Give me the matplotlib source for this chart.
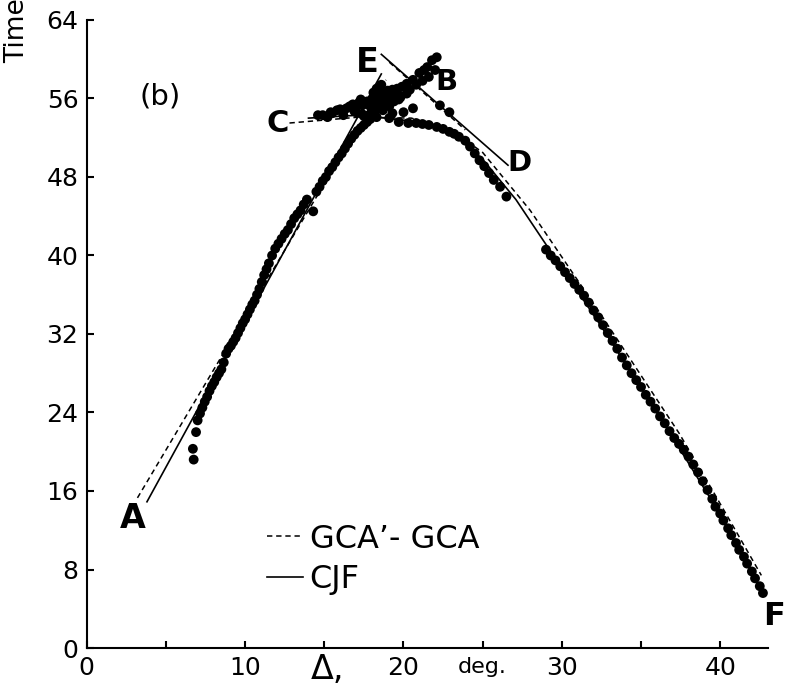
import numpy as np
import matplotlib.pyplot as plt

# Data (Delta in deg, Time)
# left (A-B) branch
left_x = [6.75, 6.70, 6.90, 7.00, 7.15, 7.30, 7.45, 7.60, 7.75, 7.90, 8.05, 8.20, 8.35, 8.50,
          8.65, 8.80, 8.95, 9.10, 9.25, 9.40, 9.55, 9.70, 9.85, 10.0, 10.15, 10.3, 10.45, 10.6,
          10.75, 10.9, 11.05, 11.2, 11.35, 11.5, 11.7, 11.9, 12.1, 12.3, 12.5, 12.7, 12.9, 13.1,
          13.3, 13.5, 13.7, 13.9, 14.3, 14.5, 14.7, 14.9, 15.1, 15.3, 15.5, 15.7, 15.9, 16.1,
          16.3, 16.5, 16.7, 16.9, 17.1, 17.3, 17.5, 17.7, 17.9]
left_y = [19.2, 20.3, 22.0, 23.2, 23.9, 24.5, 25.1, 25.6, 26.2, 26.7, 27.1, 27.6, 28.0, 28.4,
          29.1, 30.0, 30.5, 30.8, 31.2, 31.6, 32.1, 32.6, 33.1, 33.5, 34.0, 34.5, 35.0, 35.4,
          36.0, 36.6, 37.3, 38.0, 38.6, 39.2, 40.0, 40.7, 41.2, 41.7, 42.2, 42.6, 43.2, 43.8,
          44.2, 44.6, 45.2, 45.7, 44.5, 46.5, 47.0, 47.6, 48.0, 48.6, 49.0, 49.5, 50.0, 50.4,
          50.9, 51.4, 51.9, 52.3, 52.7, 53.0, 53.3, 53.6, 53.9]

# cluster near the cusp (C and B branches)
peak_x = [14.6, 14.9, 15.2, 15.5, 15.8, 16.2, 16.6, 17.0, 17.4, 17.7, 18.0, 18.3, 18.7, 19.0,
          19.3, 19.6, 19.9, 20.2, 20.6, 21.0, 21.3, 21.5, 21.8, 22.1, 18.3, 18.7, 19.1, 19.7,
          18.3, 19.1, 18.0, 17.5, 18.9, 19.5, 20.2, 20.6, 22.3, 22.9, 20.0, 18.6, 17.9, 16.9,
          16.0, 16.4, 16.8, 17.2, 17.6, 18.0, 18.4, 18.8, 19.2, 19.6, 17.0, 17.4, 17.8, 18.2,
          18.6, 19.0, 19.4, 19.8, 20.4, 21.2, 21.6, 22.0, 15.4, 16.2, 17.3, 18.1, 19.3, 20.8]
peak_y = [54.3, 54.3, 54.1, 54.5, 54.8, 54.3, 55.2, 55.1, 55.3, 55.7, 55.9, 56.2, 56.7, 56.8,
          56.9, 57.0, 57.2, 57.5, 57.9, 58.6, 58.9, 59.2, 59.9, 60.2, 54.1, 54.8, 55.2, 55.9,
          57.0, 54.0, 54.6, 54.2, 56.0, 56.3, 56.5, 55.0, 55.3, 54.6, 54.6, 57.4, 55.2, 54.7,
          54.9, 55.0, 55.4, 55.6, 55.5, 55.4, 55.6, 55.9, 56.2, 56.6, 54.6, 54.4, 54.3, 54.8,
          55.3, 55.5, 55.7, 56.1, 56.9, 57.8, 58.2, 58.9, 54.6, 54.7, 55.9, 56.6, 54.5, 57.4]

# right (F) branch
right_x = [19.7, 20.3, 20.8, 21.2, 21.6, 22.1, 22.5, 22.9, 23.2, 23.5, 23.9, 24.2, 24.5, 24.8,
           25.1, 25.4, 25.7, 26.1, 26.5, 29.0, 29.3, 29.6, 29.9, 30.2, 30.5, 30.8, 31.1, 31.4,
           31.7, 32.0, 32.3, 32.6, 32.9, 33.2, 33.5, 33.8, 34.1, 34.4, 34.7, 35.0, 35.3, 35.6,
           35.9, 36.2, 36.5, 36.8, 37.1, 37.4, 37.7, 38.0, 38.3, 38.6, 38.9, 39.2, 39.5, 39.7,
           40.0, 40.2, 40.5, 40.7, 41.0, 41.2, 41.5, 41.7, 42.0, 42.2, 42.5, 42.7]
right_y = [53.6, 53.5, 53.5, 53.4, 53.3, 53.1, 52.9, 52.6, 52.4, 52.1, 51.7, 51.1, 50.4, 49.7,
           49.1, 48.4, 47.7, 47.0, 46.0, 40.6, 40.0, 39.5, 38.9, 38.3, 37.7, 37.1, 36.5, 35.9,
           35.2, 34.4, 33.7, 32.9, 32.1, 31.3, 30.5, 29.6, 28.8, 28.0, 27.3, 26.6, 25.8, 25.1,
           24.4, 23.6, 22.9, 22.1, 21.4, 20.8, 20.2, 19.5, 18.7, 17.9, 17.0, 16.1, 15.2, 14.4,
           13.7, 13.0, 12.2, 11.5, 10.7, 10.0, 9.3, 8.6, 7.8, 7.1, 6.3, 5.6]

# GCA'-GCA model branches (dashed)
gca_ab_x = [3.2, 18.9]
gca_ab_y = [15.3, 57.9]
gca_cf_x = [12.8, 17.2, 20.5, 23.0, 25.0, 28.0, 32.5, 37.4, 39.5, 42.6]
gca_cf_y = [53.5, 54.1, 54.0, 52.8, 50.5, 44.6, 33.9, 21.9, 16.1, 7.4]
gca_ed_x = [19.1, 23.9]
gca_ed_y = [59.7, 52.8]

# CJF model branches (solid)
cjf_ab_x = [3.8, 18.6]
cjf_ab_y = [14.9, 58.5]
cjf_cf_x = [14.0, 17.2, 20.5, 23.0, 25.0, 27.1, 28.8, 32.4, 36.6, 39.7, 42.7]
cjf_cf_y = [54.0, 54.3, 53.7, 52.6, 49.8, 45.7, 41.6, 33.0, 22.5, 14.4, 5.6]
cjf_ed_x = [18.6, 26.6]
cjf_ed_y = [60.5, 49.2]

xticks = [0, 5, 10, 15, 20, 25, 30, 35, 40]
xticklabels = ['0', '', '10', '', '20', '', '30', '', '40']
yticks = [0, 8, 16, 24, 32, 40, 48, 56, 64]

fig = plt.figure(figsize=(7.89, 6.89), dpi=100)
ax = fig.add_axes([0.110, 0.0595, 0.863, 0.9115])

dash = (0, (3.5, 2.5))
g1, = ax.plot(gca_ab_x, gca_ab_y, color='k', ls=dash, lw=1.1)
ax.plot(gca_cf_x, gca_cf_y, color='k', ls=dash, lw=1.1)
ax.plot(gca_ed_x, gca_ed_y, color='k', ls=dash, lw=1.1)
c1, = ax.plot(cjf_ab_x, cjf_ab_y, color='k', lw=1.2)
ax.plot(cjf_cf_x, cjf_cf_y, color='k', lw=1.2)
ax.plot(cjf_ed_x, cjf_ed_y, color='k', lw=1.2)

for xs, ys in [(left_x, left_y), (peak_x, peak_y), (right_x, right_y)]:
    ax.scatter(xs, ys, s=50, color='k', edgecolors='none', zorder=3)

ax.set_xlim(0, 43)
ax.set_ylim(0, 64)
ax.spines['top'].set_visible(False)
ax.spines['right'].set_visible(False)
for s in ['left', 'bottom']:
    ax.spines[s].set_linewidth(1.5)
ax.set_xticks(xticks)
ax.set_xticklabels(xticklabels)
ax.set_yticks(yticks)
ax.tick_params(direction='in', length=5, width=1.5, labelsize=18, pad=6)

# branch letters
for lab, lx, ly, fs in [('A', 2.9, 13.2, 24), ('B', 22.7, 57.7, 21), ('C', 12.05, 53.5, 22),
                        ('D', 27.3, 49.4, 21), ('E', 17.7, 59.7, 24), ('F', 43.4, 3.2, 23)]:
    ax.text(lx, ly, lab, fontsize=fs, fontweight='bold', ha='center', va='center', clip_on=False)

ax.text(4.6, 56.2, '(b)', fontsize=21, ha='center', va='center')

trans = ax.get_xaxis_transform()
ax.text(15.2, -0.035, 'Δ,', transform=trans, fontsize=24, ha='center', va='center')
ax.text(25, -0.03, 'deg.', transform=trans, fontsize=16, ha='center', va='center')

fig.text(0.0215, 0.9086, 'Time', rotation=90, fontsize=19, ha='center', va='bottom')

ax.legend([g1, c1], ['GCA\u2019- GCA', 'CJF'], frameon=False, fontsize=23,
          handlelength=1.15, handletextpad=0.2, labelspacing=0.3, borderpad=0,
          borderaxespad=0, loc='center left', bbox_to_anchor=(0.264, 0.141))

fig.savefig('out.png', dpi=100)
